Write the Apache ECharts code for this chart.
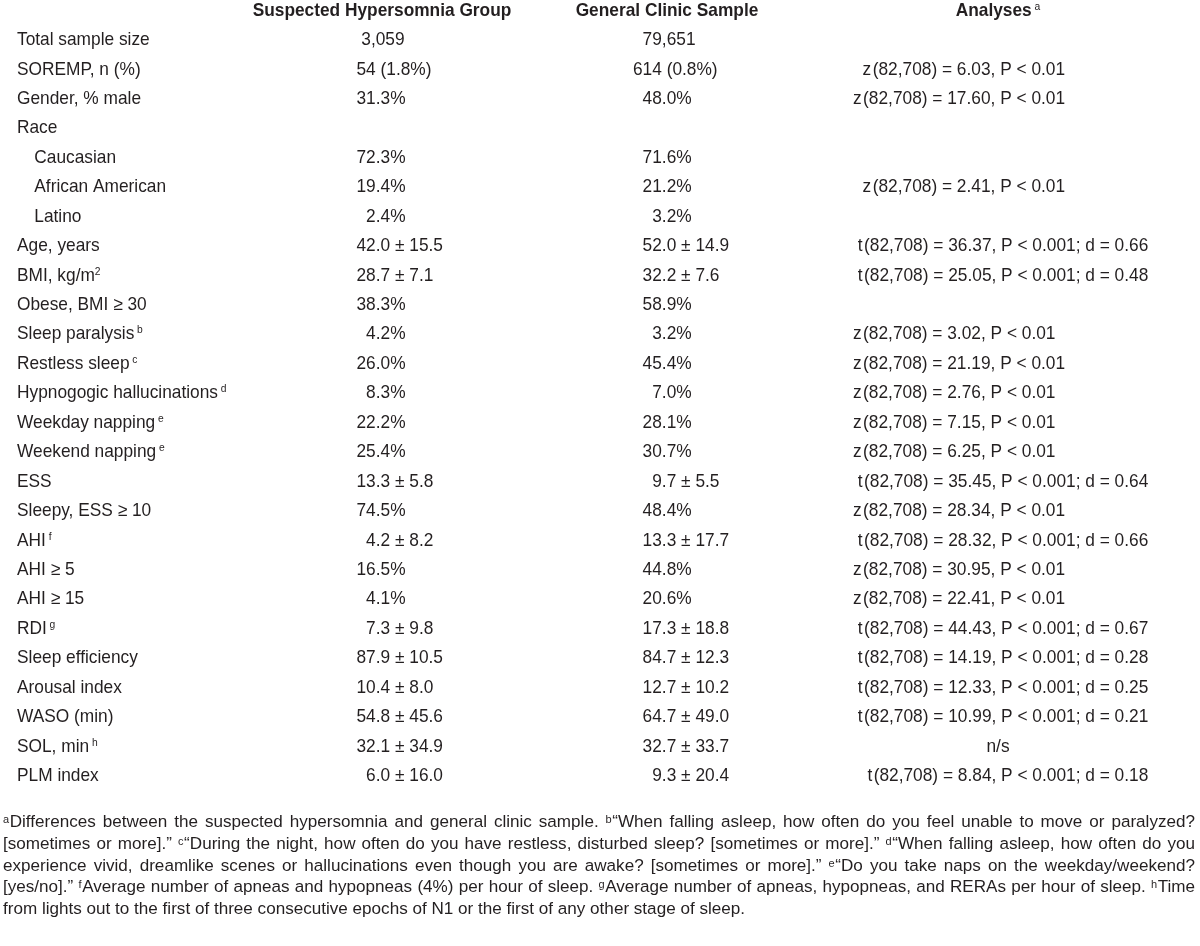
<!DOCTYPE html>
<html><head><meta charset="utf-8">
<script src="https://cdn.jsdelivr.net/npm/echarts@6/dist/echarts.min.js"></script>
<style>html,body{margin:0;padding:0;background:#fff}#chart{width:1200px;height:946px}</style>
</head><body><div id="chart"></div>
<script>
const F = '\u2007';   // figure space (table padding as typeset)
const H = '\u200A';   // hair space

const headers = ['Suspected Hypersomnia Group', 'General Clinic Sample', 'Analyses{supb|a}'];

const rowLabels = [
  'Total sample size', 'SOREMP, n (%)', 'Gender, % male', 'Race',
  '\u2003Caucasian', '\u2003African American', '\u2003Latino',
  'Age, years', 'BMI, kg/m{sup0|2}', 'Obese, BMI \u2265 30',
  'Sleep paralysis{sup|b}', 'Restless sleep{sup|c}', 'Hypnogogic hallucinations{sup|d}',
  'Weekday napping{sup|e}', 'Weekend napping{sup|e}', 'ESS', 'Sleepy, ESS \u2265 10',
  'AHI{sup|f}', 'AHI \u2265 5', 'AHI \u2265 15', 'RDI{sup|g}', 'Sleep efficiency',
  'Arousal index', 'WASO (min)', 'SOL, min{sup|h}', 'PLM index'
];

const suspectedGroup = [
  ' 3,059', '54 (1.8%)', '31.3%', '',
  '72.3%', '19.4%', F + '2.4%',
  '42.0 \u00b1 15.5', '28.7 \u00b1 7.1', '38.3%',
  F + '4.2%', '26.0%', F + '8.3%',
  '22.2%', '25.4%', '13.3 \u00b1 5.8', '74.5%',
  F + '4.2 \u00b1 8.2', '16.5%', F + '4.1%', F + '7.3 \u00b1 9.8', '87.9 \u00b1 10.5',
  '10.4 \u00b1 8.0', '54.8 \u00b1 45.6', '32.1 \u00b1 34.9', F + '6.0 \u00b1 16.0'
];

const generalClinic = [
  F + '79,651', '614 (0.8%)', F + '48.0%', '',
  F + '71.6%', F + '21.2%', F + F + '3.2%',
  F + '52.0 \u00b1 14.9', F + '32.2 \u00b1 7.6', F + '58.9%',
  F + F + '3.2%', F + '45.4%', F + F + '7.0%',
  F + '28.1%', F + '30.7%', F + F + '9.7 \u00b1 5.5', F + '48.4%',
  F + '13.3 \u00b1 17.7', F + '44.8%', F + '20.6%', F + '17.3 \u00b1 18.8', F + '84.7 \u00b1 12.3',
  F + '12.7 \u00b1 10.2', F + '64.7 \u00b1 49.0', F + '32.7 \u00b1 33.7', F + F + '9.3 \u00b1 20.4'
];

const analyses = [
  '', F + 'z' + H + '(82,708) = 6.03, P < 0.01', 'z' + H + '(82,708) = 17.60, P < 0.01', '',
  '', F + 'z' + H + '(82,708) = 2.41, P < 0.01', '',
  ' t' + H + '(82,708) = 36.37, P < 0.001; d = 0.66', ' t' + H + '(82,708) = 25.05, P < 0.001; d = 0.48', '',
  'z' + H + '(82,708) = 3.02, P < 0.01', 'z' + H + '(82,708) = 21.19, P < 0.01', 'z' + H + '(82,708) = 2.76, P < 0.01',
  'z' + H + '(82,708) = 7.15, P < 0.01', 'z' + H + '(82,708) = 6.25, P < 0.01',
  ' t' + H + '(82,708) = 35.45, P < 0.001; d = 0.64', 'z' + H + '(82,708) = 28.34, P < 0.01',
  ' t' + H + '(82,708) = 28.32, P < 0.001; d = 0.66', 'z' + H + '(82,708) = 30.95, P < 0.01', 'z' + H + '(82,708) = 22.41, P < 0.01',
  ' t' + H + '(82,708) = 44.43, P < 0.001; d = 0.67', ' t' + H + '(82,708) = 14.19, P < 0.001; d = 0.28',
  ' t' + H + '(82,708) = 12.33, P < 0.001; d = 0.25', ' t' + H + '(82,708) = 10.99, P < 0.001; d = 0.21',
  'n/s', ' ' + F + 't' + H + '(82,708) = 8.84, P < 0.001; d = 0.18'
];

const footnotes = [
  '{sup|a}Differences between the suspected hypersomnia and general clinic sample. {sup|b}\u201cWhen falling asleep, how often do you feel unable to move or paralyzed?',
  '[sometimes or more].\u201d {sup|c}\u201cDuring the night, how often do you have restless, disturbed sleep? [sometimes or more].\u201d {sup|d}\u201cWhen falling asleep, how often do you',
  'experience vivid, dreamlike scenes or hallucinations even though you are awake? [sometimes or more].\u201d {sup|e}\u201cDo you take naps on the weekday/weekend?',
  '[yes/no].\u201d {sup|f}Average number of apneas and hypopneas (4%) per hour of sleep. {sup|g}Average number of apneas, hypopneas, and RERAs per hour of sleep. {sup|h}Time',
  'from lights out to the first of three consecutive epochs of N1 or the first of any other stage of sleep.'
];

// ---------- layout / style ----------
const FONT = "'Liberation Sans', Arial, Helvetica, sans-serif";
const INK = '#231f20';
const FS = 18.5;            // glyph height like the reference
const SX = 17.3 / 18.5;     // horizontal condensing to match reference widths
const colX = [17, 356.5, 633, 853];
const headX = [382, 667, 998];
const HEAD_ROW = -0.985;
const columns = [rowLabels, suspectedGroup, generalClinic, analyses];

const supStyle = (fs, padL) => ({ fontSize: fs, fontFamily: FONT, fill: INK, fontWeight: 'normal',
  verticalAlign: 'top', lineHeight: 5, padding: [0, 0, 0, padL] });
const tableRich = { sup: supStyle(11, 3), sup0: supStyle(11, 0), supb: supStyle(11, 3) };

const cellData = [];
columns.forEach((col, c) => col.forEach((t, r) => { if (t) cellData.push([c, r]); }));
const headData = headers.map((h, i) => [i, HEAD_ROW]);

// ---------- footnotes (justified) ----------
const ctx = document.createElement('canvas').getContext('2d');
function measure(str, size, weight) {
  ctx.font = (weight || 'normal') + ' ' + size + 'px ' + FONT;
  return ctx.measureText(str).width;
}
const FN_FS = 16.3, FN_SUP = 10.5, FN_SUP_PAD = 0.5;
function richWidth(word) {
  let w = 0, last = 0, m; const re = /\{sup\|([^}]*)\}/g;
  while ((m = re.exec(word))) {
    w += measure(word.slice(last, m.index), FN_FS);
    w += measure(m[1], FN_SUP) + FN_SUP_PAD;
    last = re.lastIndex;
  }
  return w + measure(word.slice(last), FN_FS);
}
const FN_LEFT = 3, FN_RIGHT = 1195, FN_LAST_W = 742;
const FN_SX = FN_LAST_W / measure(footnotes[4], FN_FS);
const fnY = [823, 845, 866.5, 888, 910];
const fnRich = { sup: { fontSize: FN_SUP, fontFamily: FONT, fill: INK, verticalAlign: 'top', lineHeight: 5, padding: [0, FN_SUP_PAD, 0, 0] } };
const fnText = (text, x, y) => ({ type: 'text', x: x, y: y, scaleX: FN_SX, silent: true,
  style: { text: text, fontSize: FN_FS, fontFamily: FONT, fill: INK, verticalAlign: 'middle', align: 'left', rich: fnRich } });
const graphics = [];
footnotes.forEach((line, i) => {
  if (i === footnotes.length - 1) { graphics.push(fnText(line, FN_LEFT, fnY[i])); return; }
  const words = line.split(' ');
  const ws = words.map(w => richWidth(w) * FN_SX);
  const total = ws.reduce((a, b) => a + b, 0);
  const gap = (FN_RIGHT - FN_LEFT - total) / (words.length - 1);
  let x = FN_LEFT;
  words.forEach((w, k) => { graphics.push(fnText(w, x, fnY[i])); x += ws[k] + gap; });
});

const chart = echarts.init(document.getElementById('chart'), null, { renderer: 'canvas' });
chart.setOption({
  animation: false,
  backgroundColor: '#ffffff',
  grid: { left: 0, right: 0, top: 10.56, height: 794.88 },
  xAxis: { type: 'value', min: 0, max: 1200, show: false },
  yAxis: { type: 'value', min: -1, max: 26, inverse: true, show: false },
  series: [
    {
      type: 'custom', coordinateSystem: 'cartesian2d', silent: true, data: headData,
      renderItem: (params, api) => {
        const i = api.value(0);
        const p = api.coord([headX[i], api.value(1)]);
        return { type: 'text', x: p[0], y: p[1], scaleX: SX, style: { text: headers[i], fill: INK, fontSize: FS,
          fontWeight: 'bold', fontFamily: FONT, align: 'center', verticalAlign: 'middle', rich: tableRich } };
      }
    },
    {
      type: 'custom', coordinateSystem: 'cartesian2d', silent: true, data: cellData,
      renderItem: (params, api) => {
        const c = api.value(0), r = api.value(1);
        const text = columns[c][r];
        const centered = c === 3 && text.indexOf('=') < 0;
        const p = api.coord([centered ? headX[2] : colX[c], r]);
        return { type: 'text', x: p[0], y: p[1], scaleX: SX, style: { text: text, fill: INK, fontSize: FS,
          fontFamily: FONT, align: centered ? 'center' : 'left', verticalAlign: 'middle', rich: tableRich } };
      }
    }
  ],
  graphic: graphics
});
</script></body></html>
